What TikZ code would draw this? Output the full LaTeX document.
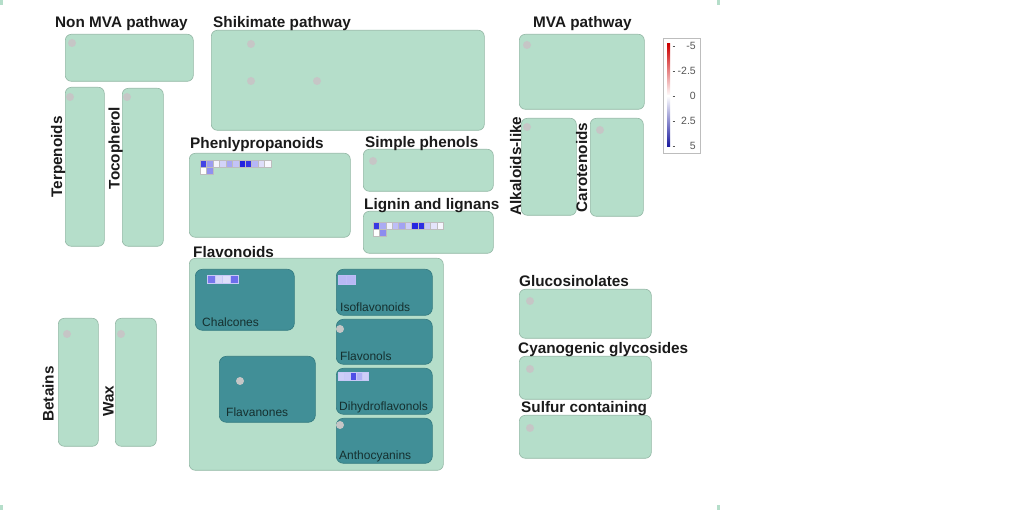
\documentclass[tikz,border=0pt]{standalone}
\usepackage{fontspec}
\setmainfont{Liberation Sans}
\setsansfont{Liberation Sans}
\usepackage{tikz}
\usetikzlibrary{positioning}
\definecolor{pathgreen}{HTML}{B5DECA}
\definecolor{boxedge}{HTML}{93B7A5}
\definecolor{subteal}{HTML}{418F97}
\definecolor{subedge}{HTML}{347A80}
\definecolor{dotgray}{HTML}{C6C6C6}
\definecolor{titledark}{HTML}{1A1A1A}
\definecolor{labeldark}{HTML}{15302F}
\definecolor{softgray}{HTML}{555555}
\definecolor{heatblue}{HTML}{2222E0}
\definecolor{heatred}{HTML}{CC0000}
\definecolor{cellgray}{HTML}{BDBDBD}

\begin{document}
\begin{tikzpicture}[x=1pt, y=-1pt, font=\sffamily]
    \tikzstyle{pathbox} = [rectangle, rounded corners=6pt, anchor=north west, inner sep=0pt,
      draw=boxedge, line width=0.6pt, fill=pathgreen]
    \tikzstyle{subbox} = [pathbox, rounded corners=7pt, draw=subedge, fill=subteal]
    \tikzstyle{ptitle} = [anchor=base west, inner sep=0pt, text=titledark,
      font=\sffamily\bfseries\fontsize{15.3}{18}\selectfont]
    \tikzstyle{vtitle} = [ptitle, anchor=base, rotate=90]
    \tikzstyle{sublabel} = [anchor=base west, inner sep=0pt, text=labeldark,
      font=\sffamily\fontsize{12}{14}\selectfont]
    \tikzstyle{legendnum} = [anchor=east, inner sep=0pt, text=softgray,
      font=\sffamily\fontsize{10.5}{13}\selectfont]
    \tikzstyle{spot} = [circle, fill=dotgray, inner sep=0pt, minimum size=8pt]
    \tikzstyle{cell} = [draw=cellgray, line width=0.4pt]

    \useasboundingbox (0,0) rectangle (1018,510);
    \fill[pathgreen] (0,0) rectangle (3,5);
    \fill[pathgreen] (717,0) rectangle (720,5);
    \fill[pathgreen] (0,505) rectangle (3,510);
    \fill[pathgreen] (717,505) rectangle (720,510);

    % top row
    \node (nonmva) [pathbox, minimum width=128pt, minimum height=47pt] at (65,34) {};
    \node (shikimate) [pathbox, minimum width=273pt, minimum height=100pt] at (211,30) {};
    \node (mva) [pathbox, minimum width=125pt, minimum height=75pt] at (519,34) {};
    \node [ptitle] (nonmvaT) at (55,28) {Non MVA pathway};
    \node [ptitle] (shikimateT) at (213,28) {Shikimate pathway};
    \node [ptitle] (mvaT) at (533,28) {MVA pathway};

    % tall boxes, left
    \node (terpenoids) [pathbox, minimum width=39pt, minimum height=159pt] at (65,87) {};
    \node (tocopherol) [pathbox, minimum width=41pt, minimum height=158pt] at (122,88) {};
    \node [vtitle] (terpenoidsT) at (62,157) {Terpenoids};
    \node [vtitle] (tocopherolT) at (119.5,148) {Tocopherol};
    \node (betains) [pathbox, minimum width=40pt, minimum height=128pt] at (58,318) {};
    \node (wax) [pathbox, minimum width=41pt, minimum height=128pt] at (115,318) {};
    \node [vtitle] (betainsT) at (53.5,394) {Betains};
    \node [vtitle] (waxT) at (113.5,401) {Wax};

    % phenolics
    \node (phenyl) [pathbox, minimum width=161pt, minimum height=84pt] at (189,153) {};
    \node (simplephen) [pathbox, minimum width=130pt, minimum height=42pt] at (363,149) {};
    \node (lignin) [pathbox, minimum width=130pt, minimum height=42pt] at (363,211) {};
    \node [ptitle] (phenylT) at (190,149) {Phenlypropanoids};
    \node [ptitle] (simplephenT) at (365,148) {Simple phenols};
    \node [ptitle] (ligninT) at (364,210) {Lignin and lignans};

    % tall boxes, right
    \node (alkaloids) [pathbox, minimum width=55pt, minimum height=97pt] at (521,118) {};
    \node (carotenoids) [pathbox, minimum width=53pt, minimum height=98pt] at (590,118) {};
    \node [vtitle] (alkaloidsT) at (521,166) {Alkaloids-like};
    \node [vtitle] (carotenoidsT) at (587,167.5) {Carotenoids};

    % flavonoids and their groups
    \node (flavonoids) [pathbox, minimum width=254pt, minimum height=212pt] at (189,258) {};
    \node [ptitle] (flavonoidsT) at (193,258) {Flavonoids};
    \node (chalcones) [subbox, minimum width=99pt, minimum height=61pt] at (195,269) {};
    \node (flavanones) [subbox, minimum width=96pt, minimum height=66pt] at (219,356) {};
    \node (isoflav) [subbox, minimum width=96pt, minimum height=46pt] at (336,269) {};
    \node (flavonols) [subbox, minimum width=96pt, minimum height=45pt] at (336,319) {};
    \node (dihydro) [subbox, minimum width=96pt, minimum height=46pt] at (336,368) {};
    \node (anthocyan) [subbox, minimum width=96pt, minimum height=45pt] at (336,418) {};
    \node [sublabel] (chalconesT) at (202,326.5) {Chalcones};
    \node [sublabel] (flavanonesT) at (226,417) {Flavanones};
    \node [sublabel] (isoflavT) at (340,311.5) {Isoflavonoids};
    \node [sublabel] (flavonolsT) at (340,361) {Flavonols};
    \node [sublabel] (dihydroT) at (339,411) {Dihydroflavonols};
    \node [sublabel] (anthocyanT) at (339,460) {Anthocyanins};

    % sulfur and cyanide compounds
    \node (glucosin) [pathbox, minimum width=132pt, minimum height=49pt] at (519,289) {};
    \node (cyanogen) [pathbox, minimum width=132pt, minimum height=43pt] at (519,356) {};
    \node (sulfur) [pathbox, minimum width=132pt, minimum height=43pt] at (519,415) {};
    \node [ptitle] (glucosinT) at (519,287) {Glucosinolates};
    \node [ptitle] (cyanogenT) at (518,354) {Cyanogenic glycosides};
    \node [ptitle] (sulfurT) at (521,413) {Sulfur containing};

    % unmapped features
    \node [spot] (s1) at (72,43) {};
    \node [spot] (s2) at (251,44) {};
    \node [spot] (s3) at (251,81) {};
    \node [spot] (s4) at (317,81) {};
    \node [spot] (s5) at (527,45) {};
    \node [spot] (s6) at (70,97) {};
    \node [spot] (s7) at (127,97) {};
    \node [spot] (s8) at (373,161) {};
    \node [spot] (s9) at (527,127) {};
    \node [spot] (s10) at (600,130) {};
    \node [spot] (s11) at (240,381) {};
    \node [spot] (s12) at (340,329) {};
    \node [spot] (s13) at (340,425) {};
    \node [spot] (s14) at (530,301) {};
    \node [spot] (s15) at (530,369) {};
    \node [spot] (s16) at (530,428) {};
    \node [spot] (s17) at (67,334) {};
    \node [spot] (s18) at (121,334) {};

    % heat maps
    \foreach \v [count=\i from 0] in {85,45,5,20,40,27,100,92,33,15,3}
      \filldraw[cell, fill=heatblue!\v] (200+6.45*\i,160) rectangle ++(6.45,7);
    \filldraw[cell, fill=white] (200,167) rectangle ++(6.45,7);
    \filldraw[cell, fill=heatblue!50] (206.45,167) rectangle ++(6.45,7);
    \foreach \v [count=\i from 0] in {90,38,7,30,42,22,98,95,25,12,4}
      \filldraw[cell, fill=heatblue!\v] (373+6.4*\i,222) rectangle ++(6.4,7);
    \filldraw[cell, fill=white] (373,229) rectangle ++(6.4,7);
    \filldraw[cell, fill=heatblue!52] (379.4,229) rectangle ++(6.4,7);
    \foreach \v [count=\i from 0] in {62,18,15,66}
      \filldraw[cell, draw=heatblue!25, fill=heatblue!\v] (207+7.75*\i,275) rectangle ++(7.75,8);
    \foreach \v [count=\i from 0] in {32,32}
      \filldraw[cell, draw=heatblue!30, fill=heatblue!\v] (338+8.5*\i,275) rectangle ++(8.5,9);
    \foreach \v [count=\i from 0] in {22,24,80,35,22}
      \filldraw[cell, draw=heatblue!25, fill=heatblue!\v] (338+6*\i,372) rectangle ++(6,8);

    % colour key
    \node (legend) [rectangle, anchor=north west, inner sep=0pt, draw=cellgray, line width=0.6pt,
      fill=white, minimum width=37pt, minimum height=115pt] at (663,38) {};
    \shade[top color=heatred, bottom color=white] (667,44) rectangle (670,96);
    \shade[top color=white, bottom color=heatblue!70!black] (667,96) rectangle (670,147);
    \foreach \v/\yy [count=\i] in {-5/46,-2.5/71,0/96,2.5/121,5/146} {
      \draw[softgray, line width=0.6pt] (672.5,\yy) -- (675,\yy);
      \node [legendnum] (key\i) at (696,\yy) {\v};
    }
\end{tikzpicture}
\end{document}
